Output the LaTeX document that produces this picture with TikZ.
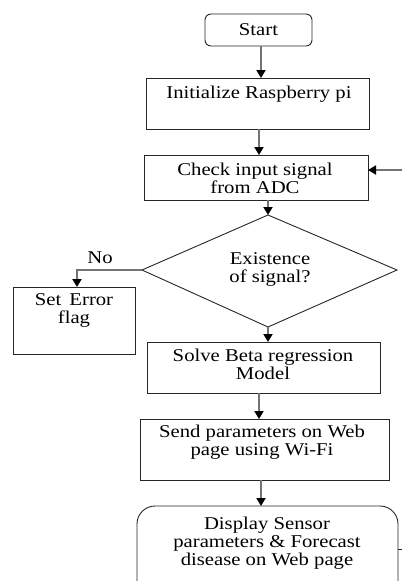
\documentclass[tikz,border=0pt]{standalone}
\usepackage{fontspec}
\setmainfont{Liberation Serif}[FakeStretch=1.15]
\usetikzlibrary{arrows.meta}
\tikzset{
  frame/.style={draw=black!85, line width=0.9pt},
  flowbox/.style={frame},
  flowlink/.style={draw=black!55, line width=1.8pt, -{Triangle[length=8pt,width=9pt,fill=black,color=black]}},
  txt/.style={font=\fontsize{18}{18}\selectfont, align=center, inner sep=0pt},
}
\begin{document}
\begin{tikzpicture}[x=1pt,y=-1pt]
\useasboundingbox (0,0) rectangle (402,581);
\clip (0,0) rectangle (402,581);
% process boxes
\draw[flowbox, rounded corners=6pt] (205,14) rectangle (312,46);
\node[txt] (start) at (258.5,30) {Start};
\coordinate (startB) at (261,46);

\draw[flowbox] (146,78) rectangle (369,129);
\node[txt] (init) at (259,94) {Initialize Raspberry pi};
\coordinate (initT) at (261,78);
\coordinate (initB) at (259,129);

\draw[flowbox] (144,155) rectangle (368,200);
\node[txt] (check) at (255,178) {Check input signal\\from ADC};
\coordinate (checkT) at (259,155);
\coordinate (checkR) at (368,170);
\coordinate (checkB) at (268,200);
\coordinate (loopIn) at (402,170);

% decision
\draw[flowbox] (268,215) -- (397,270) -- (268,327) -- (142,270) -- cycle;
\node[txt] (dec) at (270,269) {Existence\\of signal?};
\coordinate (decT) at (268,215);
\coordinate (decL) at (142,270);
\coordinate (decB) at (268,327);

\draw[flowbox] (13,287) rectangle (135,354);
\node[txt] (err) at (74,310) {Set\, Error\\flag};
\coordinate (errT) at (77,287);

\draw[flowbox] (147,342) rectangle (380,393);
\node[txt] (solve) at (263,364) {Solve Beta regression\\Model};
\coordinate (solveT) at (268,342);
\coordinate (solveB) at (259,393);

\draw[flowbox] (140,419) rectangle (389,480);
\node[txt] (send) at (262,442) {Send parameters on Web\\page using Wi-Fi};
\coordinate (sendT) at (259,419);
\coordinate (sendB) at (261,480);

\draw[flowbox, rounded corners=18pt] (137,506) rectangle (398,620);
\node[txt] (disp) at (267,543) {Display Sensor\\parameters \& Forecast\\disease on Web page};
\coordinate (dispT) at (261,506);
\coordinate (dispR) at (398,549);
\coordinate (loopOut) at (402,549);

% connectors
\draw[flowlink] (startB) -- (initT);
\draw[flowlink] (initB) -- (checkT);
\draw[flowlink] (loopIn) -- (checkR);
\draw[flowlink] (checkB) -- (decT);
\draw[flowlink] (decL) -- (77,270) -- (errT);
\node[txt] (no) at (100,258) {No};
\draw[flowlink] (decB) -- (solveT);
\draw[flowlink] (solveB) -- (sendT);
\draw[flowlink] (sendB) -- (dispT);
\draw[frame] (dispR) -- (loopOut);
\end{tikzpicture}
\end{document}
